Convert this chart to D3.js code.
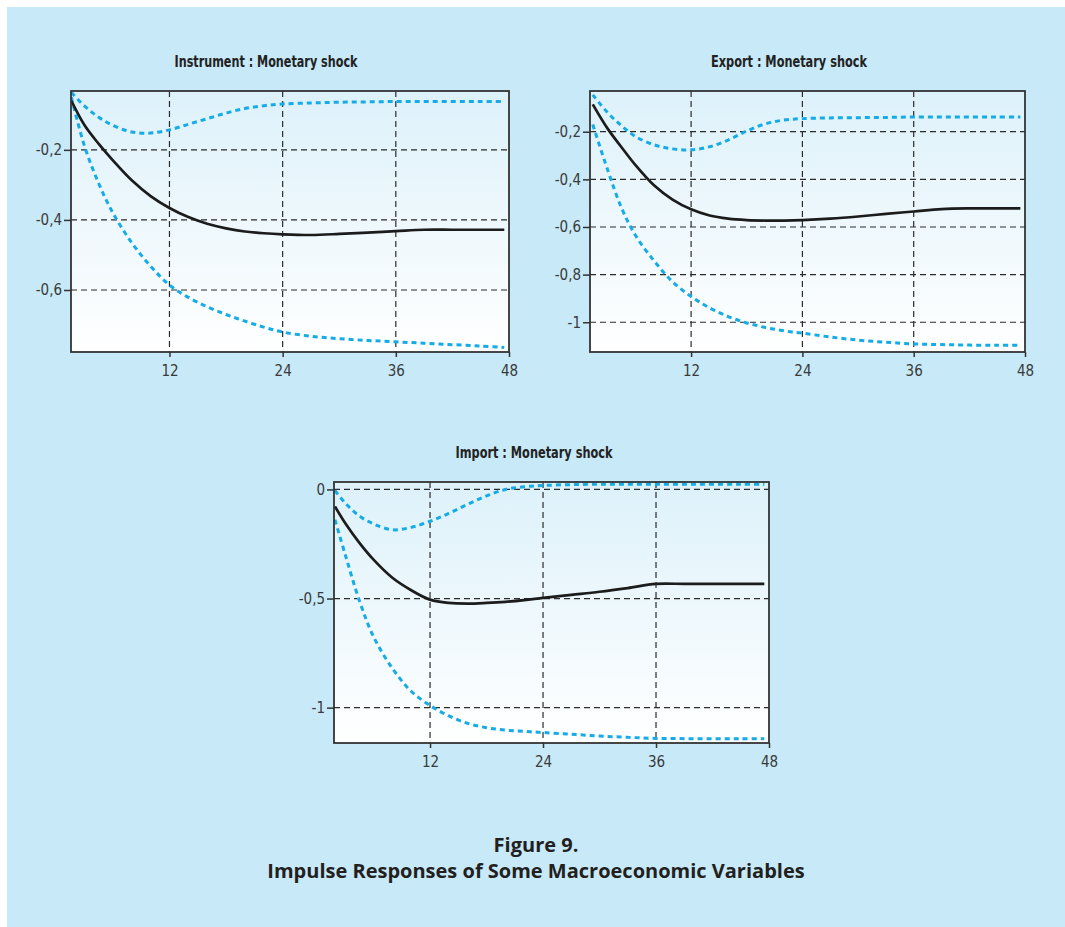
<!DOCTYPE html>
<html>
<head>
<meta charset="utf-8">
<script src="https://cdn.jsdelivr.net/npm/d3@7"></script>
<style>
  body { margin: 0; background: #fff; }
  svg { display: block; }
</style>
</head>
<body>
<svg id="chart" width="1065" height="927"></svg>
<script>
// periods after the first one are shared by the three panels
const tailPeriods = [3, 4.5, 6, 8, 10, 12, 14, 16, 18, 20, 22, 24, 27, 30, 33, 36, 39, 42, 45, 47.5];
const periodsInstrument = [1.6].concat(tailPeriods);
const periodsExport = [1.4].concat(tailPeriods);
const periodsImport = [1.9].concat(tailPeriods);

const xTicks = [12, 24, 36, 48];

// Instrument : Monetary shock
const instrumentIrf   = [-0.06, -0.13, -0.183, -0.23, -0.287, -0.332, -0.366, -0.392, -0.411, -0.424, -0.433, -0.438, -0.441, -0.443, -0.44, -0.436, -0.432, -0.428, -0.428, -0.428, -0.428];
const instrumentUpper = [-0.036, -0.075, -0.107, -0.13, -0.149, -0.152, -0.143, -0.127, -0.111, -0.095, -0.082, -0.074, -0.069, -0.066, -0.064, -0.063, -0.062, -0.062, -0.062, -0.062, -0.062];
const instrumentLower = [-0.05, -0.19, -0.296, -0.38, -0.465, -0.532, -0.586, -0.621, -0.648, -0.67, -0.689, -0.706, -0.72, -0.732, -0.739, -0.744, -0.748, -0.752, -0.756, -0.76, -0.764];
const instrumentYTicks = [-0.2, -0.4, -0.6];

// Export : Monetary shock
const exportIrf   = [-0.085, -0.187, -0.265, -0.34, -0.425, -0.485, -0.526, -0.552, -0.565, -0.571, -0.573, -0.573, -0.571, -0.565, -0.556, -0.545, -0.535, -0.525, -0.522, -0.522, -0.522];
const exportUpper = [-0.045, -0.12, -0.175, -0.22, -0.255, -0.272, -0.276, -0.263, -0.235, -0.197, -0.167, -0.151, -0.145, -0.142, -0.141, -0.14, -0.138, -0.138, -0.138, -0.138, -0.138];
const exportLower = [-0.17, -0.36, -0.52, -0.635, -0.742, -0.83, -0.892, -0.94, -0.976, -1.003, -1.022, -1.036, -1.046, -1.062, -1.075, -1.084, -1.091, -1.094, -1.096, -1.097, -1.097];
const exportYTicks = [-0.2, -0.4, -0.6, -0.8, -1];

// Import : Monetary shock
const importIrf   = [-0.078, -0.155, -0.245, -0.322, -0.405, -0.462, -0.505, -0.52, -0.523, -0.52, -0.515, -0.507, -0.497, -0.483, -0.469, -0.452, -0.433, -0.433, -0.433, -0.433, -0.433];
const importUpper = [-0.005, -0.063, -0.122, -0.158, -0.185, -0.174, -0.146, -0.11, -0.068, -0.03, 0.0, 0.012, 0.018, 0.022, 0.024, 0.024, 0.024, 0.024, 0.024, 0.024, 0.024];
const importLower = [-0.139, -0.3, -0.51, -0.675, -0.82, -0.925, -0.99, -1.038, -1.072, -1.092, -1.103, -1.109, -1.114, -1.122, -1.13, -1.136, -1.141, -1.142, -1.142, -1.142, -1.142];
const importYTicks = [0, -0.5, -1];

const panels = [
  { title: "Instrument : Monetary shock", periods: periodsInstrument,
    irf: instrumentIrf, upper: instrumentUpper, lower: instrumentLower, yTicks: instrumentYTicks,
    left: 71, top: 91, width: 438, height: 261, xMin: 1.56, yDomain: [-0.777, -0.032],
    titleX: 266, titleY: 67, titleW: 183 },
  { title: "Export : Monetary shock", periods: periodsExport,
    irf: exportIrf, upper: exportUpper, lower: exportLower, yTicks: exportYTicks,
    left: 590, top: 91, width: 435, height: 261, xMin: 1.1, yDomain: [-1.125, -0.029],
    titleX: 789, titleY: 67, titleW: 156 },
  { title: "Import : Monetary shock", periods: periodsImport,
    irf: importIrf, upper: importUpper, lower: importLower, yTicks: importYTicks,
    left: 334, top: 482, width: 435, height: 261, xMin: 1.8, yDomain: [-1.162, 0.034],
    titleX: 534, titleY: 458, titleW: 157 }
];

const svg = d3.select("#chart");
const narrow = "'Liberation Sans Narrow', 'DejaVu Sans Condensed', 'Arial Narrow', sans-serif";

svg.append("rect").attr("x", 7).attr("y", 7).attr("width", 1058).attr("height", 920).attr("fill", "#c7e9f8");

const defs = svg.append("defs");
const grad = defs.append("linearGradient").attr("id", "plotbg").attr("x1", 0).attr("y1", 0).attr("x2", 0).attr("y2", 1);
grad.append("stop").attr("offset", "0%").attr("stop-color", "#ddf1fa");
grad.append("stop").attr("offset", "100%").attr("stop-color", "#ffffff");

const fmt = d => String(d).replace(".", ",");

panels.forEach((p, i) => {
  const x = d3.scaleLinear().domain([p.xMin, 48]).range([0, p.width]);
  const y = d3.scaleLinear().domain(p.yDomain).range([p.height, 0]);

  const g = svg.append("g").attr("transform", "translate(" + p.left + "," + p.top + ")");

  defs.append("clipPath").attr("id", "clip" + i)
    .append("rect").attr("width", p.width).attr("height", p.height);

  g.append("rect").attr("width", p.width).attr("height", p.height).attr("fill", "url(#plotbg)");

  // grid
  g.append("g").selectAll("line").data(xTicks.filter(t => t < 48)).enter().append("line")
    .attr("x1", d => x(d)).attr("x2", d => x(d)).attr("y1", 0).attr("y2", p.height)
    .attr("stroke", "#2b2b2b").attr("stroke-width", 1.2).attr("stroke-dasharray", "6,4");
  g.append("g").selectAll("line").data(p.yTicks).enter().append("line")
    .attr("x1", 0).attr("x2", p.width).attr("y1", d => y(d)).attr("y2", d => y(d))
    .attr("stroke", "#2b2b2b").attr("stroke-width", 1.2).attr("stroke-dasharray", "6,4");

  // axes
  const xAxis = g.append("g").attr("transform", "translate(0," + p.height + ")")
    .call(d3.axisBottom(x).tickValues(xTicks).tickSize(5).tickSizeOuter(0).tickPadding(8));
  const yAxis = g.append("g")
    .call(d3.axisLeft(y).tickValues(p.yTicks).tickFormat(fmt).tickSize(7).tickSizeOuter(0).tickPadding(2));
  [xAxis, yAxis].forEach(a => {
    a.select(".domain").remove();
    a.selectAll(".tick line").attr("stroke", "#333").attr("stroke-width", 1.5);
    a.selectAll(".tick text").attr("fill", "#3a3a3a").attr("font-family", narrow).attr("font-size", 15);
  });

  // series
  const line = vals => d3.line()
    .x((d, j) => x(p.periods[j]))
    .y(d => y(d))
    .curve(d3.curveCatmullRom.alpha(0.5))(vals);

  const series = g.append("g").attr("clip-path", "url(#clip" + i + ")");
  [p.upper, p.lower].forEach(vals => {
    series.append("path").attr("d", line(vals)).attr("fill", "none")
      .attr("stroke", "#14abe6").attr("stroke-width", 3).attr("stroke-dasharray", "5,4");
  });
  series.append("path").attr("d", line(p.irf)).attr("fill", "none")
    .attr("stroke", "#1c1c1c").attr("stroke-width", 2.7);

  // frame
  g.append("rect").attr("width", p.width).attr("height", p.height)
    .attr("fill", "none").attr("stroke", "#333").attr("stroke-width", 1.8);

  svg.append("text").attr("x", p.titleX).attr("y", p.titleY).attr("text-anchor", "middle")
    .attr("font-family", narrow).attr("font-weight", "bold").attr("font-size", 15)
    .attr("textLength", p.titleW).attr("lengthAdjust", "spacingAndGlyphs")
    .attr("fill", "#222").text(p.title);
});

svg.append("text").attr("x", 536).attr("y", 852).attr("text-anchor", "middle")
  .attr("font-family", "'Open Sans', sans-serif").attr("font-weight", "bold").attr("font-size", 20)
  .attr("fill", "#231f20").text("Figure 9.");
svg.append("text").attr("x", 536).attr("y", 878).attr("text-anchor", "middle")
  .attr("font-family", "'Open Sans', sans-serif").attr("font-weight", "bold").attr("font-size", 20)
  .attr("fill", "#231f20").text("Impulse Responses of Some Macroeconomic Variables");
</script>
</body>
</html>
